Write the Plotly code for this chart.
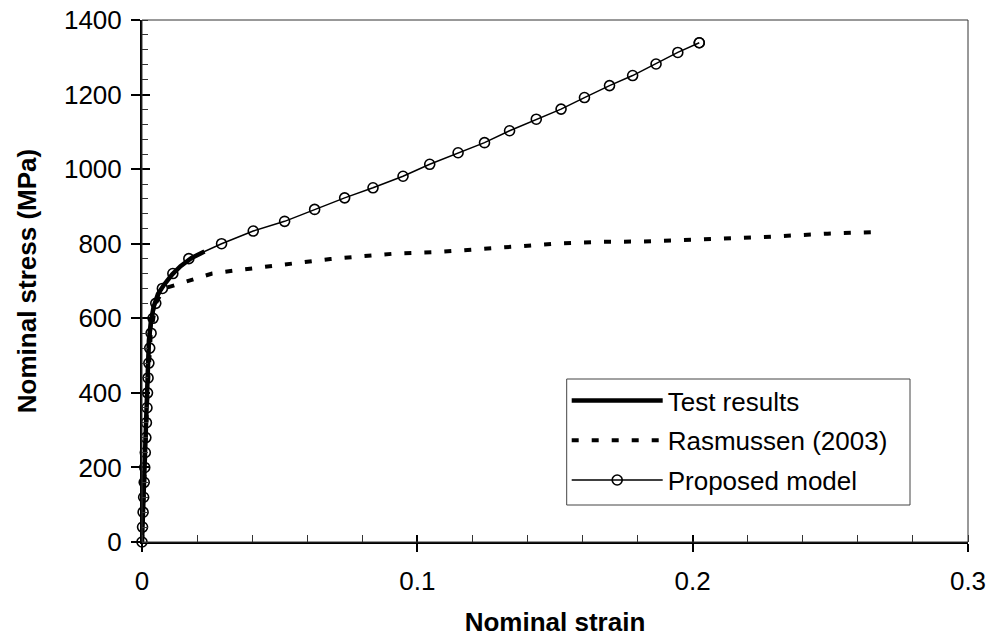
import plotly.graph_objects as go

# ---- data ----
test_strain = [0, 0.0005, 0.001, 0.0013, 0.0016, 0.002, 0.0025, 0.0032, 0.0042, 0.0058,
               0.008, 0.011, 0.014, 0.018, 0.0227]
test_stress = [0, 100, 200, 300, 400, 480, 540, 590, 630, 665,
               690, 718, 740, 762, 779]

ras_strain = [0, 0.001, 0.002, 0.0032, 0.005, 0.008, 0.017, 0.0255, 0.0346, 0.045,
              0.0594, 0.0684, 0.078, 0.0926, 0.108, 0.123, 0.137, 0.152, 0.167, 0.182,
              0.196, 0.211, 0.226, 0.249, 0.265]
ras_stress = [0, 200, 400, 560, 640, 680, 702, 720, 729, 738,
              753, 759, 765, 774, 778, 785, 794, 801, 805, 806,
              810, 813, 818, 827, 831]

model_strain = [0, 0.0002, 0.0004, 0.0006, 0.0008, 0.001, 0.0012, 0.0014, 0.0016, 0.0018,
                0.002, 0.0022, 0.0025, 0.0028, 0.0033, 0.004, 0.005, 0.0074, 0.0112, 0.017,
                0.0289, 0.0404, 0.0518, 0.0627, 0.0736, 0.0839, 0.0948, 0.1045, 0.1148, 0.1244,
                0.1335, 0.1432, 0.1522, 0.1607, 0.1698, 0.1782, 0.1867, 0.1946, 0.2024, 0.2024]
model_stress = [0, 40, 80, 120, 160, 200, 240, 280, 320, 360,
                400, 440, 480, 520, 560, 600, 640, 680, 720, 760,
                800, 834, 860, 892, 923, 950, 981, 1013, 1044, 1071,
                1103, 1134, 1161, 1192, 1224, 1251, 1282, 1313, 1339, 1339]

x_ticks = [0, 0.1, 0.2, 0.3]
x_labels = ["0", "0.1", "0.2", "0.3"]
y_ticks = [0, 200, 400, 600, 800, 1000, 1200, 1400]

FONT = "Liberation Sans, Arial, sans-serif"
FS = 26

L, R, T, B = 142, 27, 20, 95
PW, PH = 995 - L - R, 637 - T - B


def px_x(p):
    return (p - L) / PW


def px_y(p):
    return (637 - B - p) / PH


fig = go.Figure()

fig.add_trace(go.Scatter(
    x=ras_strain, y=ras_stress, mode="lines", name="Rasmussen (2003)",
    line=dict(color="black", width=4, dash="7px,13px"), legendrank=2,
    legendgroup="b", cliponaxis=False))
fig.add_trace(go.Scatter(
    x=model_strain, y=model_stress, mode="lines+markers", name="Proposed model",
    line=dict(color="black", width=1.5),
    marker=dict(symbol="circle-open", size=10, color="black", line=dict(width=1.6)),
    legendrank=3, legendgroup="c", cliponaxis=False))
fig.add_trace(go.Scatter(
    x=test_strain, y=test_stress, mode="lines", name="Test results",
    line=dict(color="black", width=4.5), legendrank=1, legendgroup="a",
    cliponaxis=False))
# invisible helper trace for the overlay axes (inside major ticks)
fig.add_trace(go.Scatter(x=[], y=[], xaxis="x2", yaxis="y2", showlegend=False,
                         hoverinfo="skip"))

fig.update_layout(
    width=995, height=637,
    margin=dict(l=L, r=R, t=T, b=B, autoexpand=False),
    paper_bgcolor="white", plot_bgcolor="white",
    font=dict(family=FONT, size=FS, color="black"),
    showlegend=True,
    legend=dict(
        x=px_x(566.7), y=px_y(377), xanchor="left", yanchor="top",
        bgcolor="rgba(0,0,0,0)", borderwidth=0,
        font=dict(family=FONT, size=26, color="black"),
        traceorder="grouped", tracegroupgap=3, itemwidth=91,
    ),
    xaxis=dict(
        range=[0, 0.3], tickvals=x_ticks, ticktext=x_labels, automargin=False,
        showgrid=False, zeroline=False,
        showline=True, linecolor="black", linewidth=2,
        ticks="outside", ticklen=8, tickwidth=1.5, tickcolor="black",
        ticklabelstandoff=7,
        minor=dict(dtick=0.02, ticks="inside", ticklen=7, tickwidth=1, tickcolor="#333",
                   showgrid=False),
        title=dict(text="<b>Nominal strain</b>", standoff=24,
                   font=dict(family=FONT, size=FS)),
        tickfont=dict(family=FONT, size=26),
    ),
    yaxis=dict(
        range=[0, 1400], tickvals=y_ticks, automargin=False,
        showgrid=False, zeroline=False,
        showline=True, linecolor="black", linewidth=2,
        ticks="outside", ticklen=9, tickwidth=1.5, tickcolor="black",
        ticklabelstandoff=4,
        minor=dict(dtick=40, ticks="inside", ticklen=6, tickwidth=1, tickcolor="#333",
                   showgrid=False),
        title=dict(text="<b>Nominal stress (MPa)</b>", standoff=20,
                   font=dict(family=FONT, size=FS)),
        tickfont=dict(family=FONT, size=26),
    ),
    xaxis2=dict(range=[0, 0.3], tickvals=x_ticks, overlaying="x", anchor="y2",
                showticklabels=False, ticks="inside", ticklen=7, tickwidth=1.5,
                tickcolor="black", showgrid=False, zeroline=False, showline=False,
                automargin=False),
    yaxis2=dict(range=[0, 1400], tickvals=y_ticks, overlaying="y", anchor="x2",
                showticklabels=False, ticks="inside", ticklen=8, tickwidth=1.5,
                tickcolor="black", showgrid=False, zeroline=False, showline=False,
                automargin=False),
    shapes=[
        dict(type="rect", xref="paper", yref="paper", x0=0, x1=1, y0=0, y1=1,
             line=dict(color="#333", width=1), layer="above"),
        # legend frame
        dict(type="rect", xref="paper", yref="paper",
             x0=px_x(566.7), x1=px_x(910), y0=px_y(505), y1=px_y(379),
             line=dict(color="#444", width=1), fillcolor="white", layer="above"),
    ],
)

fig.write_html("out.html")
